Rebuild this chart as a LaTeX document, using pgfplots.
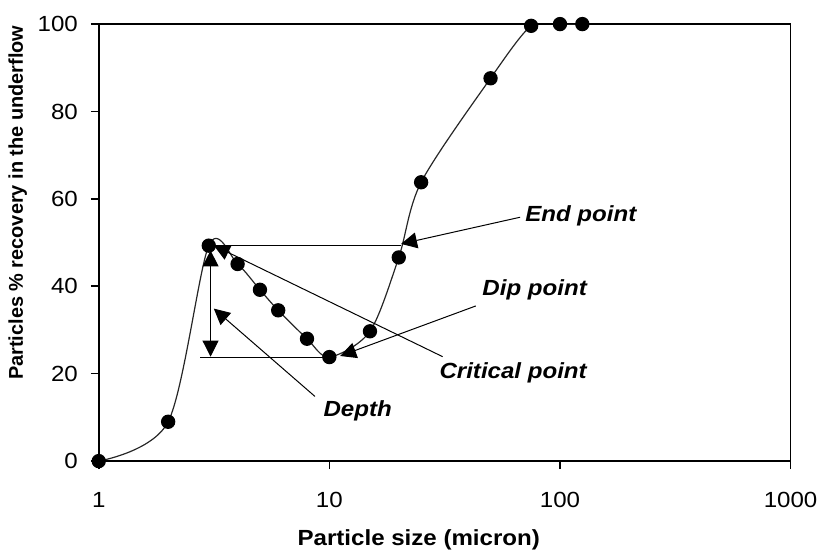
\documentclass[border=0pt]{standalone}
\usepackage{pgfplots}
\pgfplotsset{compat=1.18}
\usepackage{fontspec}
\setmainfont{Liberation Sans}[FakeStretch=1.1]
\newfontfamily\ylabfont{Liberation Sans}
\usetikzlibrary{arrows.meta}

\begin{document}
\begin{tikzpicture}[>={Triangle[length=8pt,width=8pt]}]
\begin{axis}[
  name=ax,
  xmode=log, xmin=1, xmax=1000, ymin=0, ymax=100,
  width=347.5pt, height=219.5pt, scale only axis,
  xtick={1,10,100,1000}, xticklabels={1,10,100,1000},
  ytick={0,20,40,60,80,100},
  xminorticks=false,
  tick pos=left,
  tick align=outside, major tick length=4pt,
  tick style={black, line width=0.8pt},
  axis line style={line width=0.8pt},
  /pgf/number format/assume math mode=true,
  ticklabel style={font=\fontsize{11}{13}\selectfont},
  xticklabel style={yshift=-8pt},
  yticklabel style={xshift=-3pt},
  xlabel={\bfseries Particle size (micron)},
  ylabel={\ylabfont\bfseries Particles \% recovery in the underflow},
  xlabel style={font=\fontsize{11}{13}\selectfont, xshift=-13pt, yshift=-4pt},
  ylabel style={font=\fontsize{10}{12}\selectfont, xshift=20pt, yshift=-1.5pt},
]
  % Courbe de récupération
  \addplot[smooth, black!85, line width=0.6pt, mark=*, mark size=3.3pt,
    mark options={fill=black, draw=black, solid}]
    coordinates {
      (1,0) (2,9) (3,49.3) (4,45.1) (5,39.2) (6,34.5) (8,28)
      (10,23.8) (15,29.7) (20,46.6) (25,63.8) (50,87.6)
      (75,99.6) (100,100) (125,100)
    };

  % annotations
  \begin{scope}[line width=0.5pt, black]
    \draw (rel axis cs:0.1616,0.4934) -- (rel axis cs:0.437,0.4934);
    \draw (rel axis cs:0.147,0.237) -- (rel axis cs:0.3316,0.237);
    \draw[<->] (rel axis cs:0.1616,0.482) -- (rel axis cs:0.1616,0.239);
    \draw[->] (rel axis cs:0.609,0.558) -- (rel axis cs:0.437,0.497);
    \draw[->] (rel axis cs:0.545,0.355) -- (rel axis cs:0.349,0.2405);
    \draw[->] (rel axis cs:0.497,0.239) -- (rel axis cs:0.1663,0.4934);
    \draw[->] (rel axis cs:0.3125,0.148) -- (rel axis cs:0.1663,0.349);
  \end{scope}
  \begin{scope}[font=\fontsize{11}{13}\selectfont\bfseries\itshape]
    \node[anchor=west, inner sep=0pt] at (rel axis cs:0.616,0.562) {End point};
    \node[anchor=west, inner sep=0pt] at (rel axis cs:0.554,0.391) {Dip point};
    \node[anchor=west, inner sep=0pt] at (rel axis cs:0.492,0.201) {Critical point};
    \node[anchor=west, inner sep=0pt] at (rel axis cs:0.3244,0.1139) {Depth};
  \end{scope}
\end{axis}
\path ([xshift=-49.6pt,yshift=-43.8pt]ax.south west)
      ([xshift=14.5pt,yshift=12.1pt]ax.north east);
\end{tikzpicture}
\end{document}
